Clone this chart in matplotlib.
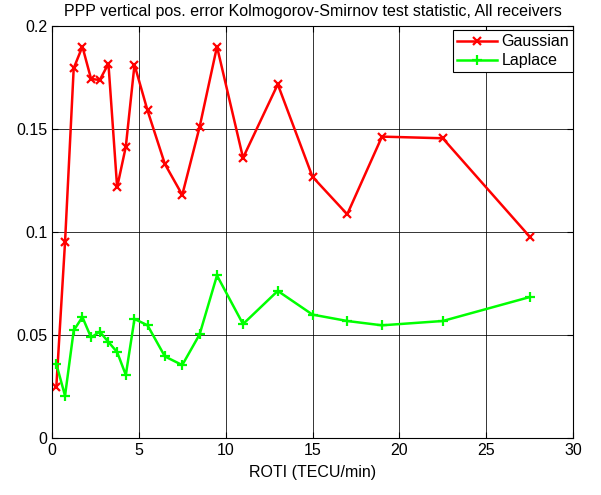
import numpy as np
import matplotlib
matplotlib.use("Agg")
import matplotlib.pyplot as plt
from matplotlib.ticker import FormatStrFormatter

plt.rcParams["font.family"] = ["Liberation Sans", "DejaVu Sans"]

# ROTI bins (TECU/min)
roti = [0.25, 0.75, 1.25, 1.75, 2.25, 2.75, 3.25, 3.75, 4.25, 4.75,
        5.5, 6.5, 7.5, 8.5, 9.5, 11, 13, 15, 17, 19, 22.5, 27.5]

# KS test statistic
gaussian = [0.025, 0.095, 0.1795, 0.190, 0.1743, 0.1738, 0.1817, 0.1217, 0.1414, 0.1812,
            0.159, 0.133, 0.118, 0.151, 0.190, 0.136, 0.1717, 0.1268, 0.1086, 0.1463,
            0.1455, 0.0978]
laplace = [0.0359, 0.0205, 0.0522, 0.0587, 0.0488, 0.0516, 0.0466, 0.0417, 0.0306, 0.0578,
           0.0547, 0.0396, 0.0354, 0.0503, 0.0789, 0.0553, 0.0714, 0.0599, 0.0568, 0.0547,
           0.0568, 0.0684]

fs = 11.5

fig = plt.figure(figsize=(6.01, 4.95), dpi=100)
ax = fig.add_axes([52 / 601, 1 - 438 / 495, (573 - 52) / 601, (438 - 26) / 495])

ax.plot(roti, gaussian, color="#ff0000", lw=1.8, marker="x", ms=6, mew=1.6, label="Gaussian")
ax.plot(roti, laplace, color="#00ff00", lw=1.8, marker="+", ms=7, mew=1.6, label="Laplace")

ax.set_xlim(0, 30)
ax.set_ylim(0, 0.2)
ax.set_xticks(np.arange(0, 31, 5))
ax.set_yticks([0, 0.05, 0.1, 0.15, 0.2])
ax.yaxis.set_major_formatter(FormatStrFormatter("%g"))
ax.grid(True, color="black", lw=0.7, alpha=0.8)
ax.tick_params(direction="in", top=True, right=True, labelsize=fs, length=4)
for s in ax.spines.values():
    s.set_linewidth(0.8)

ax.set_title("PPP vertical pos. error Kolmogorov-Smirnov test statistic, All receivers",
             fontsize=fs, pad=7)
ax.set_xlabel("ROTI (TECU/min)", fontsize=fs, labelpad=5)

leg = ax.legend(loc="upper right", bbox_to_anchor=(1.0, 0.99), fontsize=fs,
                fancybox=False, framealpha=1, edgecolor="black", borderaxespad=0,
                handlelength=2.5, borderpad=0.25, labelspacing=0.25, handletextpad=0.3)
leg.get_frame().set_linewidth(0.8)

fig.savefig("out.png", dpi=100)
